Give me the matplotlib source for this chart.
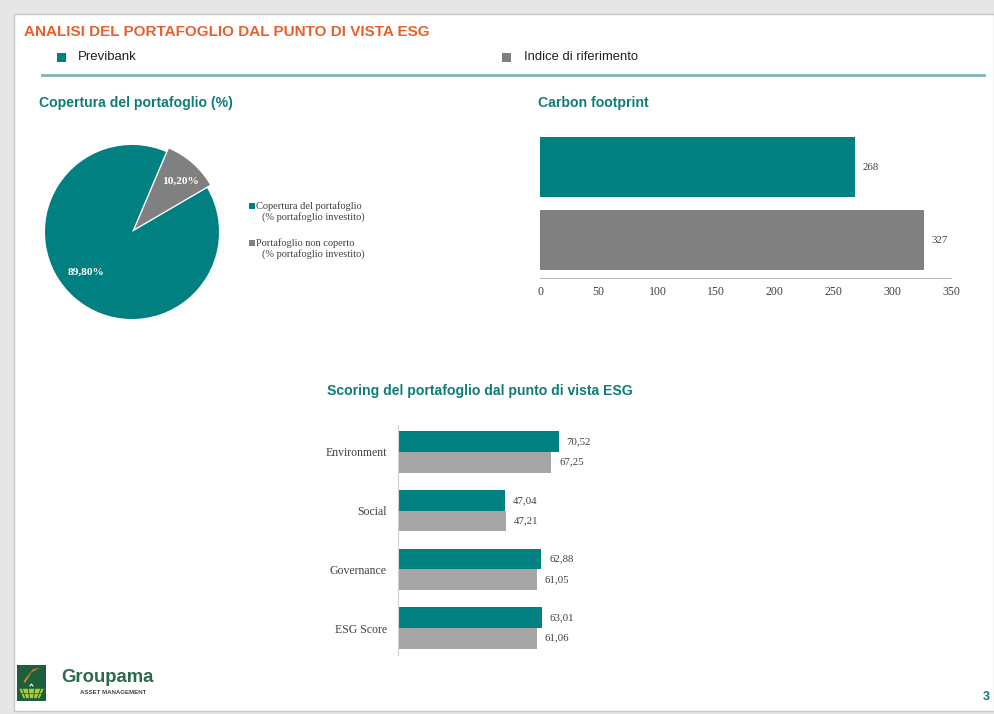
import math
import matplotlib
matplotlib.use("Agg")
import matplotlib.pyplot as plt
from matplotlib.patches import Rectangle, Wedge, Polygon
from matplotlib.lines import Line2D

# ---------------- data ----------------
series_names = ["Previbank", "Indice di riferimento"]
pie_labels = ["Copertura del portafoglio\n(% portafoglio investito)",
              "Portafoglio non coperto\n(% portafoglio investito)"]
pie_values = [89.80, 10.20]
carbon_values = [268, 327]
carbon_ticks = [0, 50, 100, 150, 200, 250, 300, 350]
esg_categories = ["Environment", "Social", "Governance", "ESG Score"]
esg_previbank = [70.52, 47.04, 62.88, 63.01]
esg_index = [67.25, 47.21, 61.05, 61.06]

TEAL = "#008080"
GRAY = "#808080"
LGRAY = "#a6a6a6"
ORANGE = "#e8602c"
TITLE_TEAL = "#0e7c78"
SANS = ["Liberation Sans", "DejaVu Sans"]
SERIF = ["Liberation Serif", "DejaVu Serif"]

W, H = 994, 714
fig = plt.figure(figsize=(W / 100, H / 100), dpi=100)
fig.patch.set_facecolor("#e6e6e6")


def fx(x):
    return x / W


def fy(y):
    return 1 - y / H


def rect_px(x, y, w, h):
    return [fx(x), fy(y + h), w / W, h / H]


def fmt(v, d=2):
    return f"{v:.{d}f}".replace(".", ",")


# slide background
fig.patches.append(Rectangle((fx(14), fy(711)), (W - 14) / W, (711 - 14) / H,
                             transform=fig.transFigure, facecolor="white",
                             edgecolor="#c8c8c8", linewidth=1.0, zorder=-5))

# header
fig.text(fx(24), fy(32), "ANALISI DEL PORTAFOGLIO DAL PUNTO DI VISTA ESG",
         color=ORANGE, fontsize=11, fontweight="bold", family=SANS, va="center")
fig.patches.append(Rectangle((fx(57), fy(62)), 9 / W, 9 / H, transform=fig.transFigure,
                             facecolor=TEAL, edgecolor="none"))
fig.text(fx(78), fy(57), series_names[0], fontsize=9.5, family=SANS, va="center", color="#222222")
fig.patches.append(Rectangle((fx(502), fy(62)), 9 / W, 9 / H, transform=fig.transFigure,
                             facecolor=GRAY, edgecolor="none"))
fig.text(fx(524), fy(57), series_names[1], fontsize=9.4, family=SANS, va="center", color="#222222")
fig.lines.append(Line2D([fx(42), fx(984)], [fy(75), fy(75)], transform=fig.transFigure,
                        color="#7fb2b4", linewidth=2))

fig.text(fx(39), fy(103), "Copertura del portafoglio (%)", color=TITLE_TEAL,
         fontsize=10.1, fontweight="bold", family=SANS, va="center")
fig.text(fx(538), fy(103), "Carbon footprint", color=TITLE_TEAL,
         fontsize=10.1, fontweight="bold", family=SANS, va="center")
fig.text(fx(327), fy(391), "Scoring del portafoglio dal punto di vista ESG", color=TITLE_TEAL,
         fontsize=10.1, fontweight="bold", family=SANS, va="center")

# ---------------- pie ----------------
axp = fig.add_axes(rect_px(45, 145, 174, 174))
wedges, _ = axp.pie(pie_values, colors=[TEAL, GRAY], startangle=67.0, counterclock=True,
                    explode=[0, 0.05], radius=1.0,
                    wedgeprops=dict(linewidth=0))
axp.set_xlim(-1, 1)
axp.set_ylim(-1, 1)
axp.set_aspect("equal")
axp.text(-0.53, -0.46, fmt(pie_values[0]) + "%", color="white", fontsize=8.2,
         fontweight="bold", family=SERIF, ha="center", va="center")
axp.text(0.56, 0.58, fmt(pie_values[1]) + "%", color="white", fontsize=8.2,
         fontweight="bold", family=SERIF, ha="center", va="center")

# pie legend
for i, (lab, col) in enumerate(zip(pie_labels, [TEAL, GRAY])):
    y0 = 206 + i * 37
    fig.patches.append(Rectangle((fx(249), fy(y0 + 3)), 6 / W, 6 / H, transform=fig.transFigure,
                                 facecolor=col, edgecolor="none"))
    l1, l2 = lab.split("\n")
    fig.text(fx(256), fy(y0), l1, fontsize=7.5, family=SERIF, va="center", color="#404040")
    fig.text(fx(262), fy(y0 + 11), l2, fontsize=7.5, family=SERIF, va="center", color="#404040")

# ---------------- carbon footprint ----------------
axc = fig.add_axes(rect_px(540, 132, 411, 146))
axc.patch.set_alpha(0)
ypos = list(range(len(carbon_values)))
axc.barh(ypos, carbon_values, height=0.82, color=[TEAL, GRAY])
axc.set_ylim(1.52, -0.48)
axc.set_xlim(carbon_ticks[0], carbon_ticks[-1])
axc.set_xticks(carbon_ticks)
axc.set_xticklabels([str(t) for t in carbon_ticks], family=SERIF, fontsize=8.5, color="#404040")
axc.tick_params(axis="x", length=0, pad=6)
axc.set_yticks([])
for s in ["top", "right", "left"]:
    axc.spines[s].set_visible(False)
axc.spines["bottom"].set_color("#bfbfbf")
for y, v in zip(ypos, carbon_values):
    axc.text(v + 6.5, y, str(v), va="center", ha="left", family=SERIF, fontsize=7.8, color="#404040")

# ---------------- ESG scoring ----------------
axe = fig.add_axes(rect_px(398, 425, 228, 230))
axe.patch.set_alpha(0)
idx = list(range(len(esg_categories)))
bh = 0.35
axe.barh([i - bh / 2 for i in idx], esg_previbank, height=bh, color=TEAL)
axe.barh([i + bh / 2 for i in idx], esg_index, height=bh, color=LGRAY)
axe.set_ylim(3.46, -0.46)
axe.set_xlim(0, 100)
axe.set_xticks([])
axe.set_yticks(idx)
axe.set_yticklabels(esg_categories, family=SERIF, fontsize=8.5, color="#404040")
axe.tick_params(axis="y", length=0, pad=8)
for s in ["top", "right", "bottom"]:
    axe.spines[s].set_visible(False)
axe.spines["left"].set_color("#d0d0d0")
for i in idx:
    axe.text(esg_previbank[i] + 3.4, i - bh / 2, fmt(esg_previbank[i]), va="center", ha="left",
             family=SERIF, fontsize=7.8, color="#404040")
    axe.text(esg_index[i] + 3.4, i + bh / 2, fmt(esg_index[i]), va="center", ha="left",
             family=SERIF, fontsize=7.8, color="#404040")

# ---------------- footer / logo ----------------
axl = fig.add_axes(rect_px(17, 665, 29, 36))
axl.set_xlim(0, 1)
axl.set_ylim(0, 1)
axl.axis("off")
axl.add_patch(Rectangle((0, 0), 1, 1, facecolor="#1d5e3b", edgecolor="none", zorder=0))
axl.add_patch(Polygon([[0.22, 0.55], [0.55, 0.88], [0.8, 0.92], [0.5, 0.8], [0.28, 0.5]],
                      facecolor="#e07a3a", edgecolor="none", zorder=2))
axl.add_patch(Polygon([[0.08, 0.34], [0.92, 0.34], [0.78, 0.08], [0.22, 0.08]],
                      facecolor="#a8cc3a", edgecolor="none", zorder=2))
for xx in [0.3, 0.43, 0.57, 0.7]:
    axl.plot([xx + (xx - 0.5) * 0.6, xx], [0.34, 0.08], color="#1d5e3b", lw=0.7, zorder=3)
axl.plot([0.08, 0.92], [0.22, 0.22], color="#1d5e3b", lw=0.5, zorder=3)
axl.plot([0.45, 0.5, 0.55], [0.42, 0.47, 0.42], color="white", lw=0.8, zorder=3)

fig.text(fx(61), fy(677), "Groupama", color="#2b6a4c", fontsize=13.3, family=SANS,
         va="center", ha="left", fontweight="bold")
fig.text(fx(80), fy(692), "ASSET MANAGEMENT", color="#3a4a44", fontsize=4.4, family=SANS,
         va="center", ha="left", fontweight="bold")
fig.text(fx(986), fy(697), "3", color=TITLE_TEAL, fontsize=9, fontweight="bold",
         family=SANS, va="center", ha="center")

fig.savefig("out.png", dpi=100, facecolor=fig.get_facecolor())
